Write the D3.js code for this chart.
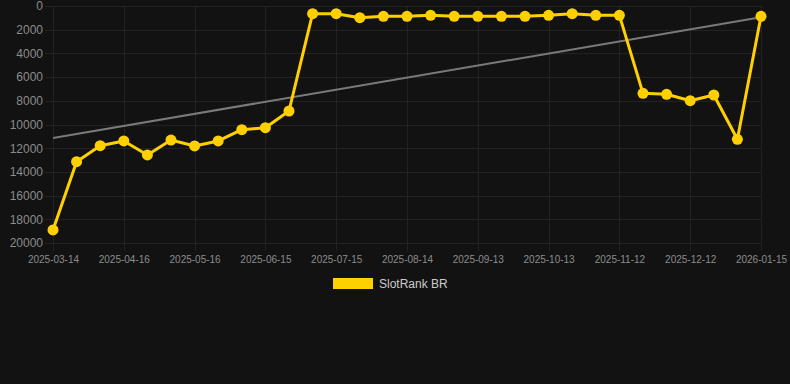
<!DOCTYPE html>
<html>
<head>
<meta charset="utf-8">
<script src="https://cdn.jsdelivr.net/npm/d3@7"></script>
<style>
  html, body { margin: 0; padding: 0; background: #121212; }
  svg { display: block; font-family: "Liberation Sans", Arial, sans-serif; }
  .grid line { stroke: #222222; stroke-width: 1; }
  .axis text { fill: #8c8c8c; }
  .axis path { display: none; }
  .axis line { stroke: #222222; }
</style>
</head>
<body>
<div id="chart"></div>
<script>
// dates of each sample (category axis)
let dates = [
    "2025-03-14", "2025-03-25", "2025-04-05",
    "2025-04-16", "2025-04-26", "2025-05-06",
    "2025-05-16", "2025-05-26", "2025-06-05",
    "2025-06-15", "2025-06-25", "2025-07-05",
    "2025-07-15", "2025-07-25", "2025-08-04",
    "2025-08-14", "2025-08-24", "2025-09-03",
    "2025-09-13", "2025-09-23", "2025-10-03",
    "2025-10-13", "2025-10-23", "2025-11-02",
    "2025-11-12", "2025-11-22", "2025-12-02",
    "2025-12-12", "2025-12-23", "2026-01-03",
    "2026-01-15"
];
let ranks = [
    18900, 13140, 11790, 11390, 12570, 11310, 11810, 11390, 10440, 10270,
    8860, 650, 650, 990, 870, 870, 790, 870, 870, 870,
    870, 790, 650, 790, 790, 7370, 7450, 7990, 7510, 11250,
    870
];
// trend line value at first and last date
let trend = [11140, 950];
let yTicks = [0, 2000, 4000, 6000, 8000, 10000, 12000, 14000, 16000, 18000, 20000];
let seriesName = "SlotRank BR";

let width = 790, height = 384;
let plot = {left: 53, right: 761, top: 6, bottom: 243};
let lineColor = "#ffd000";

let svg = d3.select("#chart").append("svg")
    .attr("width", width)
    .attr("height", height);

let x = d3.scalePoint()
    .domain(dates)
    .range([plot.left, plot.right]);

let y = d3.scaleLinear()
    .domain([0, 20000])
    .range([plot.top, plot.bottom]);

let shownDates = dates.filter((d, i) => i % 3 === 0);

// grid
svg.append("g")
    .attr("class", "grid")
    .selectAll("line")
    .data(yTicks)
    .enter()
    .append("line")
    .attr("x1", plot.left - 8)
    .attr("x2", plot.right)
    .attr("y1", d => Math.round(y(d)) + 0.5)
    .attr("y2", d => Math.round(y(d)) + 0.5);

svg.append("g")
    .attr("class", "grid")
    .selectAll("line")
    .data(shownDates)
    .enter()
    .append("line")
    .attr("x1", d => Math.round(x(d)) + 0.5)
    .attr("x2", d => Math.round(x(d)) + 0.5)
    .attr("y1", plot.top)
    .attr("y2", plot.bottom + 8);

// y axis
let yAxis = svg.append("g")
    .attr("class", "axis")
    .attr("transform", "translate(" + plot.left + ",0)")
    .call(d3.axisLeft(y).tickValues(yTicks).tickSize(0).tickPadding(10).tickFormat(d3.format("d")));
yAxis.selectAll("text").style("font-size", "12px");

// x axis
let xAxis = svg.append("g")
    .attr("class", "axis")
    .attr("transform", "translate(0," + plot.bottom + ")")
    .call(d3.axisBottom(x).tickValues(shownDates).tickSize(0).tickPadding(13));
xAxis.selectAll("text").style("font-size", "10px");

// trend line
svg.append("line")
    .attr("x1", x(dates[0]))
    .attr("y1", y(trend[0]))
    .attr("x2", x(dates[dates.length - 1]))
    .attr("y2", y(trend[1]))
    .attr("stroke", "#7a7a7a")
    .attr("stroke-width", 2);

// series
let points = dates.map((d, i) => ({date: d, value: ranks[i]}));

svg.append("path")
    .datum(points)
    .attr("fill", "none")
    .attr("stroke", lineColor)
    .attr("stroke-width", 3)
    .attr("stroke-linejoin", "round")
    .attr("d", d3.line().x(d => x(d.date)).y(d => y(d.value)));

svg.append("g")
    .selectAll("circle")
    .data(points)
    .enter()
    .append("circle")
    .attr("cx", d => x(d.date))
    .attr("cy", d => y(d.value))
    .attr("r", 5.5)
    .attr("fill", lineColor);

// legend
let legend = svg.append("g").attr("transform", "translate(333,278)");
legend.append("rect")
    .attr("width", 40)
    .attr("height", 11)
    .attr("fill", lineColor);
legend.append("text")
    .attr("x", 46)
    .attr("y", 10)
    .attr("fill", "#cccccc")
    .style("font-size", "12px")
    .text(seriesName);
</script>
</body>
</html>
